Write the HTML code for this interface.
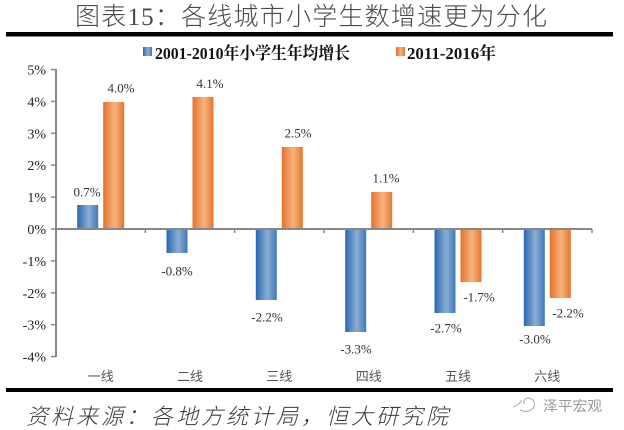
<!DOCTYPE html>
<html><head><meta charset="utf-8"><style>
html,body{margin:0;padding:0;background:#fff;}
svg{display:block;}
</style></head><body>
<svg width="624" height="430" viewBox="0 0 624 430" xmlns="http://www.w3.org/2000/svg">
<defs>
<linearGradient id="gb" x1="0" x2="1" y1="0" y2="0">
<stop offset="0" stop-color="#2a67b1"/><stop offset="0.55" stop-color="#8aaed2"/><stop offset="1" stop-color="#3f78b9"/>
</linearGradient>
<linearGradient id="go" x1="0" x2="1" y1="0" y2="0">
<stop offset="0" stop-color="#e4702a"/><stop offset="0.55" stop-color="#f7b47f"/><stop offset="1" stop-color="#e5752d"/>
</linearGradient>
</defs>
<rect width="624" height="430" fill="#fff"/>
<!-- title -->
<text x="75" y="25" textLength="472" lengthAdjust="spacing" font-family="'Liberation Serif','Noto Sans CJK SC',sans-serif" font-weight="300" font-size="25" fill="#4a4a4a">图表15：各线城市小学生数增速更为分化</text>
<rect x="6" y="32" width="607" height="4.5" fill="#000"/>
<!-- legend -->
<rect x="143" y="47" width="9" height="9" fill="url(#gb)"/>
<text x="155" y="59" textLength="195" lengthAdjust="spacingAndGlyphs" font-family="'Liberation Serif','Noto Serif CJK SC',serif" font-weight="bold" font-size="17" fill="#111">2001-2010年小学生年均增长</text>
<rect x="396" y="47" width="9" height="9" fill="url(#go)"/>
<text x="407" y="59" textLength="89" lengthAdjust="spacingAndGlyphs" font-family="'Liberation Serif','Noto Serif CJK SC',serif" font-weight="bold" font-size="17" fill="#111">2011-2016年</text>
<!-- y axis labels -->
<g font-family="'Liberation Serif',serif" font-size="14" fill="#222" text-anchor="end">
<text x="46" y="74.5">5%</text>
<text x="46" y="106.4">4%</text>
<text x="46" y="138.3">3%</text>
<text x="46" y="170.2">2%</text>
<text x="46" y="202.1">1%</text>
<text x="46" y="234">0%</text>
<text x="46" y="265.9">-1%</text>
<text x="46" y="297.8">-2%</text>
<text x="46" y="329.7">-3%</text>
<text x="46" y="361.6">-4%</text>
</g>
<!-- bars -->
<g>
<rect x="77.2" y="205" width="21" height="24" fill="url(#gb)"/>
<rect x="103.2" y="102" width="21" height="127" fill="url(#go)"/>
<rect x="166.5" y="229" width="21" height="24" fill="url(#gb)"/>
<rect x="192.5" y="97" width="21" height="132" fill="url(#go)"/>
<rect x="255.8" y="229" width="21" height="71" fill="url(#gb)"/>
<rect x="281.8" y="147" width="21" height="82" fill="url(#go)"/>
<rect x="345.2" y="229" width="21" height="103" fill="url(#gb)"/>
<rect x="371.2" y="192" width="21" height="37" fill="url(#go)"/>
<rect x="434.5" y="229" width="21" height="84" fill="url(#gb)"/>
<rect x="460.5" y="229" width="21" height="53" fill="url(#go)"/>
<rect x="523.8" y="229" width="21" height="97" fill="url(#gb)"/>
<rect x="549.8" y="229" width="21" height="69" fill="url(#go)"/>
</g>
<!-- axes -->
<line x1="56" y1="69" x2="56" y2="357" stroke="#888" stroke-width="2"/>
<g stroke="#888" stroke-width="1.5">
<line x1="51" y1="69.5" x2="56" y2="69.5"/>
<line x1="51" y1="101.4" x2="56" y2="101.4"/>
<line x1="51" y1="133.3" x2="56" y2="133.3"/>
<line x1="51" y1="165.2" x2="56" y2="165.2"/>
<line x1="51" y1="197.1" x2="56" y2="197.1"/>
<line x1="51" y1="229" x2="56" y2="229"/>
<line x1="51" y1="260.9" x2="56" y2="260.9"/>
<line x1="51" y1="292.8" x2="56" y2="292.8"/>
<line x1="51" y1="324.7" x2="56" y2="324.7"/>
<line x1="51" y1="356.6" x2="56" y2="356.6"/>
<line x1="145.3" y1="229" x2="145.3" y2="233"/>
<line x1="234.7" y1="229" x2="234.7" y2="233"/>
<line x1="324" y1="229" x2="324" y2="233"/>
<line x1="413.3" y1="229" x2="413.3" y2="233"/>
<line x1="502.7" y1="229" x2="502.7" y2="233"/>
<line x1="592" y1="229" x2="592" y2="233"/>
</g>
<line x1="56" y1="229" x2="592" y2="229" stroke="#888" stroke-width="2"/>
<!-- value labels -->
<g font-family="'Liberation Serif',serif" font-size="13" fill="#333" text-anchor="middle">
<text x="87" y="196.5">0.7%</text>
<text x="121" y="92.5">4.0%</text>
<text x="177" y="275.5">-0.8%</text>
<text x="210" y="88">4.1%</text>
<text x="267" y="321.5">-2.2%</text>
<text x="298" y="137.5">2.5%</text>
<text x="356" y="353.5">-3.3%</text>
<text x="386" y="182.5">1.1%</text>
<text x="446" y="332.5">-2.7%</text>
<text x="479" y="301.5">-1.7%</text>
<text x="535" y="343.5">-3.0%</text>
<text x="568" y="317.5">-2.2%</text>
</g>
<!-- category labels -->
<g font-family="'Noto Sans CJK SC',sans-serif" font-size="13" fill="#555" text-anchor="middle">
<text x="100.7" y="381">一线</text>
<text x="190" y="381">二线</text>
<text x="279.3" y="381">三线</text>
<text x="368.7" y="381">四线</text>
<text x="458" y="381">五线</text>
<text x="547.3" y="381">六线</text>
</g>
<rect x="6" y="388" width="607" height="4" fill="#000"/>
<!-- source -->
<text x="26" y="424" textLength="422" lengthAdjust="spacing" font-family="'Noto Sans CJK SC',sans-serif" font-style="italic" font-weight="300" font-size="22" fill="#3a3a3a">资料来源：各地方统计局，恒大研究院</text>
<!-- watermark -->
<g fill="none" stroke="#aaa" stroke-width="1">
<path d="M513 407 q6 -2 9 -7 M520 410 q8 4 14 -3 q2 -7 -5 -9 q-6 0 -5 6"/>
</g>
<text x="543" y="411" font-family="'Noto Sans CJK SC',sans-serif" font-size="14" fill="#999" textLength="59" lengthAdjust="spacingAndGlyphs">泽平宏观</text>
</svg>
</body></html>
